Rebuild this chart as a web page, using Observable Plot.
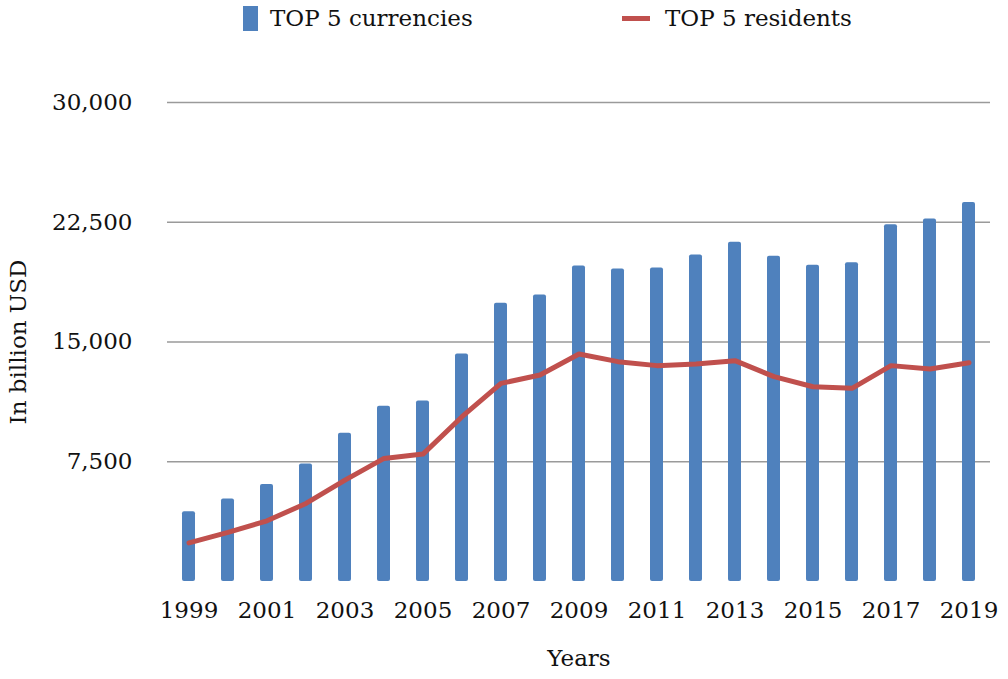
<!DOCTYPE html>
<html>
<head>
<meta charset="utf-8">
<script src="https://cdn.jsdelivr.net/npm/d3@7"></script>
<script src="https://cdn.jsdelivr.net/npm/@observablehq/plot@0.6"></script>
<style>
  html, body { margin: 0; padding: 0; background: #fff; }
  #legend { height: 40px; position: relative; font-family: "DejaVu Serif", serif; font-size: 23px; color: #111; }
  .item { position: absolute; top: 4px; display: flex; align-items: center; height: 28px; }
  .sw-bar { width: 15px; height: 25px; background: #4F81BD; margin-right: 12px; }
  .sw-line { width: 28px; height: 5px; background: #C0504D; margin-right: 15px; }
</style>
</head>
<body>
<div id="legend">
  <div class="item" style="left:243px"><span class="sw-bar"></span><span>TOP 5 currencies</span></div>
  <div class="item" style="left:622px"><span class="sw-line"></span><span>TOP 5 residents</span></div>
</div>
<div id="chart"></div>
<script>
const years = [1999,2000,2001,2002,2003,2004,2005,2006,2007,2008,2009,2010,2011,2012,2013,2014,2015,2016,2017,2018,2019];
const currencies = [4370,5160,6080,7360,9280,10970,11300,14250,17430,17950,19760,19570,19640,20450,21250,20370,19810,19970,22350,22710,23730];
const residents = [2420,3080,3800,4890,6350,7710,7980,10320,12410,12930,14250,13770,13520,13620,13830,12830,12200,12100,13520,13310,13700];
const yTicks = [7500, 15000, 22500, 30000];
const xTicks = years.filter(y => y % 2 === 1);
const yTitle = "In billion USD";
const xTitle = "Years";

const data = years.map((y, i) => ({year: y, currencies: currencies[i], residents: residents[i]}));

const chart = Plot.plot({
  width: 1008,
  height: 639,
  marginLeft: 167,
  marginRight: 18,
  marginTop: 62,
  marginBottom: 98,
  style: {fontFamily: "DejaVu Serif, serif", fontSize: "23px", color: "#111", background: "transparent"},
  x: {
    type: "band",
    domain: years,
    paddingInner: 0.67,
    paddingOuter: 0.255,
    ticks: xTicks,
    tickSize: 0,
    tickPadding: 20,
    tickFormat: d => String(d),
    label: null
  },
  y: {
    domain: [0, 30000],
    ticks: yTicks,
    tickSize: 0,
    tickPadding: 35,
    tickFormat: d3.format(","),
    label: null
  },
  marks: [
    Plot.ruleY(yTicks, {stroke: "#9a9a9a", strokeWidth: 1.5}),
    Plot.barY(data, {x: "year", y: "currencies", fill: "#4F81BD", rx: 2}),
    Plot.line(data, {x: "year", y: "residents", stroke: "#C0504D", strokeWidth: 5, strokeLinejoin: "round", strokeLinecap: "round"}),
    Plot.text([yTitle], {frameAnchor: "left", dx: -149, rotate: -90, textAnchor: "middle", fontSize: 23, fill: "#111"}),
    Plot.text([xTitle], {frameAnchor: "bottom", dy: 84, textAnchor: "middle", fontSize: 23, fill: "#111"})
  ]
});
document.getElementById("chart").appendChild(chart);
</script>
</body>
</html>
